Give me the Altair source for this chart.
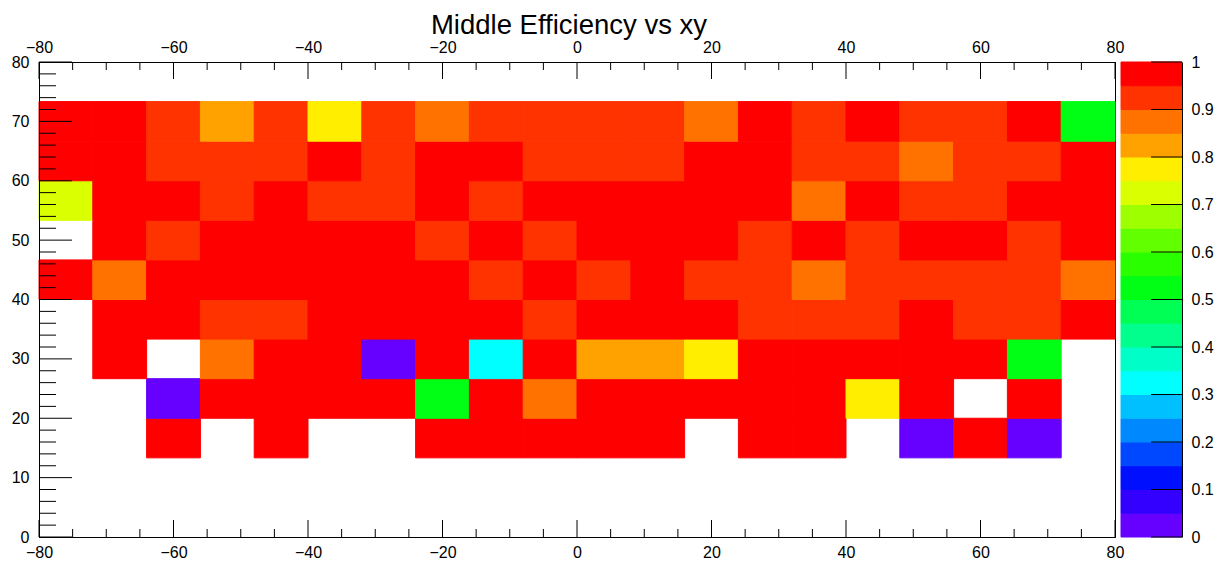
import altair as alt
import pandas as pd

# ---------------- data ----------------
# lower edges of the 20 x bins (width 8)
x_low = [-80, -72, -64, -56, -48, -40, -32, -24, -16, -8, 0, 8, 16, 24, 32, 40, 48, 56, 64, 72]
x_bin = 8
# y bins: 12 bins of 80/12 between 0 and 80; filled rows are bins 2..10
y_bin = 80 / 12
y_bin_index = [2, 3, 4, 5, 6, 7, 8, 9, 10]

# efficiencies, one list per y row (bottom to top), None = empty bin
eff_y13 = [None, None, 0.98, None, 0.98, None, None, 0.98, 0.98, 0.98, 0.98, 0.98, None, 0.98, 0.98, None, 0.03, 0.98, 0.03, None]
eff_y20 = [None, None, 0.03, 0.98, 0.98, 0.98, 0.98, 0.52, 0.98, 0.88, 0.98, 0.98, 0.98, 0.98, 0.98, 0.78, 0.98, None, 0.98, None]
eff_y27 = [None, 0.98, None, 0.88, 0.98, 0.98, 0.03, 0.98, 0.33, 0.98, 0.83, 0.83, 0.78, 0.98, 0.98, 0.98, 0.98, 0.98, 0.52, None]
eff_y33 = [None, 0.98, 0.98, 0.93, 0.93, 0.98, 0.98, 0.98, 0.98, 0.93, 0.98, 0.98, 0.98, 0.93, 0.93, 0.93, 0.98, 0.93, 0.93, 0.98]
eff_y40 = [0.98, 0.88, 0.98, 0.98, 0.98, 0.98, 0.98, 0.98, 0.93, 0.98, 0.93, 0.98, 0.93, 0.93, 0.88, 0.93, 0.93, 0.93, 0.93, 0.88]
eff_y47 = [None, 0.98, 0.93, 0.98, 0.98, 0.98, 0.98, 0.93, 0.98, 0.93, 0.98, 0.98, 0.98, 0.93, 0.98, 0.93, 0.98, 0.98, 0.93, 0.98]
eff_y53 = [0.72, 0.98, 0.98, 0.93, 0.98, 0.93, 0.93, 0.98, 0.93, 0.98, 0.98, 0.98, 0.98, 0.98, 0.88, 0.98, 0.93, 0.93, 0.98, 0.98]
eff_y60 = [0.98, 0.98, 0.93, 0.93, 0.93, 0.98, 0.93, 0.98, 0.98, 0.93, 0.93, 0.93, 0.98, 0.98, 0.93, 0.93, 0.88, 0.93, 0.93, 0.98]
eff_y67 = [0.98, 0.98, 0.93, 0.83, 0.93, 0.78, 0.93, 0.88, 0.93, 0.93, 0.93, 0.93, 0.88, 0.98, 0.93, 0.98, 0.93, 0.93, 0.98, 0.52]
rows = [eff_y13, eff_y20, eff_y27, eff_y33, eff_y40, eff_y47, eff_y53, eff_y60, eff_y67]

# colour palette (20 contour levels between 0 and 1)
levels = [0.05, 0.10, 0.15, 0.20, 0.25, 0.30, 0.35, 0.40, 0.45, 0.50,
          0.55, 0.60, 0.65, 0.70, 0.75, 0.80, 0.85, 0.90, 0.95]
palette = ["#6600ff", "#3300ff", "#0010ff", "#0048ff", "#0088ff", "#00c0ff", "#00ffff",
           "#00ffc8", "#00ff8c", "#00ff55", "#00ff15", "#2aff00", "#62ff00", "#9dff00",
           "#d9ff00", "#ffee00", "#ffa200", "#ff7200", "#ff3300", "#ff0000"]
band_lo = [0.0] + levels
band_hi = levels + [1.0]

# axis tick values
x_major = [-80, -60, -40, -20, 0, 20, 40, 60, 80]
x_minor = [-75, -70, -65, -55, -50, -45, -35, -30, -25, -15, -10, -5,
           5, 10, 15, 25, 30, 35, 45, 50, 55, 65, 70, 75]
y_major = [0, 10, 20, 30, 40, 50, 60, 70, 80]
y_minor = [2, 4, 6, 8, 12, 14, 16, 18, 22, 24, 26, 28, 32, 34, 36, 38, 42, 44, 46, 48,
           52, 54, 56, 58, 62, 64, 66, 68, 72, 74, 76, 78]
z_major = [0, 0.1, 0.2, 0.3, 0.4, 0.5, 0.6, 0.7, 0.8, 0.9, 1.0]

# ---------------- tables ----------------
records = []
for yi, row in zip(y_bin_index, rows):
    for xl, v in zip(x_low, row):
        if v is not None:
            records.append({"x0": xl, "x1": xl + x_bin, "y0": yi * y_bin, "y1": (yi + 1) * y_bin, "eff": v})
cells_df = pd.DataFrame(records)

cb_df = pd.DataFrame({"lo": band_lo, "hi": band_hi})
cb_df["mid"] = (cb_df["lo"] + cb_df["hi"]) / 2

# ---------------- styling ----------------
FONT = "Liberation Sans"
W, H = 1076, 475
CBW = 61

color_scale = alt.Scale(type="threshold", domain=levels, range=palette)
xscale = alt.Scale(domain=[-80, 80], nice=False, zero=False)
yscale = alt.Scale(domain=[0, 80], nice=False, zero=False)
zscale = alt.Scale(domain=[0, 1], nice=False, zero=False)

axis_common = dict(labelFont=FONT, labelFontSize=16, labelColor="black", ticks=False, tickSize=0,
                   domain=True, domainColor="black", domainWidth=1, grid=False, zindex=1,
                   labelFlush=False, labelOverlap=False)

cells = alt.Chart(cells_df).mark_rect(strokeWidth=1).encode(
    x=alt.X("x0:Q", scale=xscale, title=None,
            axis=alt.Axis(orient="bottom", values=x_major, labelPadding=7, **axis_common)),
    x2="x1:Q",
    y=alt.Y("y0:Q", scale=yscale, title=None,
            axis=alt.Axis(orient="left", values=y_major, labelPadding=10, **axis_common)),
    y2="y1:Q",
    color=alt.Color("eff:Q", scale=color_scale, legend=None),
    stroke=alt.Stroke("eff:Q", scale=color_scale, legend=None),
)

def yticks(vals, length):
    return alt.Chart(pd.DataFrame({"v": vals})).mark_rule(color="black", strokeWidth=1).encode(
        y=alt.Y("v:Q", scale=yscale, axis=None), x=alt.value(0), x2=alt.value(length))

def xticks_bottom(vals, length):
    return alt.Chart(pd.DataFrame({"v": vals})).mark_rule(color="black", strokeWidth=1).encode(
        x=alt.X("v:Q", scale=xscale, axis=None), y=alt.value(H), y2=alt.value(H - length))

def xticks_top(vals, length, axis=None):
    return alt.Chart(pd.DataFrame({"v": vals})).mark_rule(color="black", strokeWidth=1).encode(
        x=alt.X("v:Q", scale=xscale, title=None, axis=axis), y=alt.value(0), y2=alt.value(length))

top_axis = alt.Axis(orient="top", values=x_major, labelPadding=7, **axis_common)

main = alt.layer(
    cells,
    yticks(y_major, 33),
    yticks(y_minor, 17),
    xticks_bottom(x_major, 17),
    xticks_bottom(x_minor, 8),
    xticks_top(x_major, 17, top_axis),
    xticks_top(x_minor, 8),
).resolve_axis(x="independent", y="independent").properties(
    width=W, height=H,
    title=alt.TitleParams("Middle Efficiency vs xy", font=FONT, fontSize=27.5, fontWeight="normal",
                          color="black", anchor="middle", offset=0, dx=-8),
    view=alt.ViewBackground(stroke="black", strokeWidth=1),
)

bands = alt.Chart(cb_df).mark_rect(strokeWidth=1).encode(
    y=alt.Y("lo:Q", scale=zscale, title=None,
            axis=alt.Axis(orient="right", values=z_major, format=".1~f", labelPadding=9, **axis_common)),
    y2="hi:Q",
    x=alt.value(0), x2=alt.value(CBW),
    color=alt.Color("mid:Q", scale=color_scale, legend=None),
    stroke=alt.Stroke("mid:Q", scale=color_scale, legend=None),
)
cb_ticks = alt.Chart(pd.DataFrame({"v": z_major})).mark_rule(color="black", strokeWidth=1).encode(
    y=alt.Y("v:Q", scale=zscale, axis=None), x=alt.value(30), x2=alt.value(CBW))

colorbar = alt.layer(bands, cb_ticks).resolve_axis(y="independent").properties(
    width=CBW, height=H, view=alt.ViewBackground(stroke="transparent", strokeWidth=0))

chart = alt.hconcat(main, colorbar, spacing=6, bounds="flush").properties(
    padding={"left": 2, "top": 3, "right": 2, "bottom": 0},
    background="white",
)

chart.save("out.html", embed_options={"renderer": "svg", "actions": False})
